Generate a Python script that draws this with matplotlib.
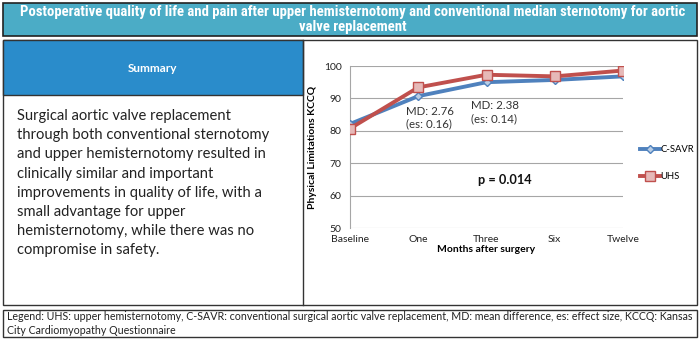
import matplotlib
matplotlib.use("Agg")
import matplotlib.pyplot as plt
from matplotlib.patches import Rectangle
from matplotlib.lines import Line2D

# ── Data ─────────────────────────────────────────────────────────────
months = ["Baseline", "One", "Three", "Six", "Twelve"]
csavr = [82.1, 90.7, 95.0, 95.7, 96.8]
uhs = [80.7, 93.4, 97.3, 96.8, 98.6]
y_ticks = [50, 60, 70, 80, 90, 100]

title = ("Postoperative quality of life and pain after upper hemisternotomy and "
         "conventional median sternotomy for aortic\nvalve replacement")
summary = ("Surgical aortic valve replacement\n"
           "through both conventional sternotomy\n"
           "and upper hemisternotomy resulted in\n"
           "clinically similar and important\n"
           "improvements in quality of life, with a\n"
           "small advantage for upper\n"
           "hemisternotomy, while there was no\n"
           "compromise in safety.")
legend_note = ("Legend: UHS: upper hemisternotomy, C-SAVR: conventional surgical aortic valve "
               "replacement, MD: mean difference, es: effect size, KCCQ: Kansas\n"
               "City Cardiomyopathy Questionnaire")

W, H = 700, 340
fig = plt.figure(figsize=(W / 100, H / 100), dpi=100)


def box(x0, y0, x1, y1, fc, ec="#333333", lw=1.0):
    """Rectangle in pixel coords (origin top-left)."""
    r = Rectangle((x0 / W, 1 - y1 / H), (x1 - x0) / W, (y1 - y0) / H,
                  transform=fig.transFigure, facecolor=fc, edgecolor=ec, lw=lw,
                  zorder=-2)
    fig.add_artist(r)


def ftext(x, y, s, **kw):
    fig.text(x / W, 1 - y / H, s, **kw)


# ── Frame boxes ──────────────────────────────────────────────────────
box(3, 3, 697, 36, "#4BACC6", ec="#222222", lw=1.2)
box(3, 40, 697, 305, "white", ec="#333333", lw=1.0)
box(3, 40, 303, 95, "#2A8CCB", ec="#333333", lw=1.0)
fig.add_artist(Line2D([303 / W, 303 / W], [1 - 40 / H, 1 - 305 / H],
                      transform=fig.transFigure, color="#333333", lw=1.0,
                      zorder=-1))
box(3, 310, 697, 337, "white", ec="#333333", lw=1.0)

narrow = ["Roboto Condensed", "Liberation Sans Narrow", "Roboto"]
ftext(353, 19.5, title, ha="center", va="center", color="white",
      fontsize=10.6, fontweight="bold", family=narrow, linespacing=1.1)
ftext(153, 68, "Summary", ha="center", va="center", color="white",
      fontsize=8.5, fontweight="bold", family="Lato")
ftext(17, 109, summary, ha="left", va="top", color="#222222",
      fontsize=10.6, family="Lato", linespacing=1.47)
ftext(7, 323.5, legend_note, ha="left", va="center", color="#222222",
      fontsize=7.7, family="Lato", linespacing=1.25)

# ── Chart ────────────────────────────────────────────────────────────
ax = fig.add_axes([350 / W, 1 - 228 / H, 273 / W, 162 / H])
x = list(range(len(months)))
ax.plot(x, csavr, color="#4F81BD", lw=2.8, marker="D", ms=4.5,
        mfc="#B9CDE5", mec="#4F81BD", mew=1.0, label="C-SAVR", zorder=3)
ax.plot(x, uhs, color="#C0504D", lw=2.8, marker="s", ms=7,
        mfc="#E6B9B8", mec="#C0504D", mew=1.0, label="UHS", zorder=4)

ax.set_xlim(0, 4)
ax.set_ylim(50, 100)
ax.set_yticks(y_ticks)
ax.set_xticks(x)
ax.set_xticklabels(months)
ax.grid(axis="y", color="#A6A6A6", lw=0.8)
ax.set_axisbelow(True)
for s in ["top", "right", "bottom"]:
    ax.spines[s].set_visible(False)
ax.spines["left"].set_color("#A6A6A6")
ax.tick_params(axis="both", length=0, labelsize=7.5, colors="#222222")
ax.tick_params(axis="y", pad=6)
ax.tick_params(axis="x", pad=5)
for lab in ax.get_xticklabels() + ax.get_yticklabels():
    lab.set_family("Lato")
ax.set_xlabel("Months after surgery", fontsize=7.5, fontweight="bold",
              family="Lato", labelpad=1)
ax.set_ylabel("Physical Limitations KCCQ", fontsize=7.5, fontweight="bold",
              family="Lato", labelpad=5)

ax.text(0.82, 87.8, "MD: 2.76\n(es: 0.16)", fontsize=8.3, va="top", ha="left",
        color="#333333", family="Lato", linespacing=1.25)
ax.text(1.77, 89.6, "MD: 2.38\n(es: 0.14)", fontsize=8.3, va="top", ha="left",
        color="#333333", family="Lato", linespacing=1.25)
ax.text(2.27, 64.8, "p = 0.014", fontsize=9.2, fontweight="bold", ha="center",
        va="center", color="#111111", family="Lato")

leg = ax.legend(loc="center left", bbox_to_anchor=(1.05, 0.40), frameon=False,
                handlelength=2.1, handletextpad=0.0, borderaxespad=0.0,
                labelspacing=1.9, prop={"family": "Lato", "size": 6.8})

fig.savefig("out.png", dpi=100)
